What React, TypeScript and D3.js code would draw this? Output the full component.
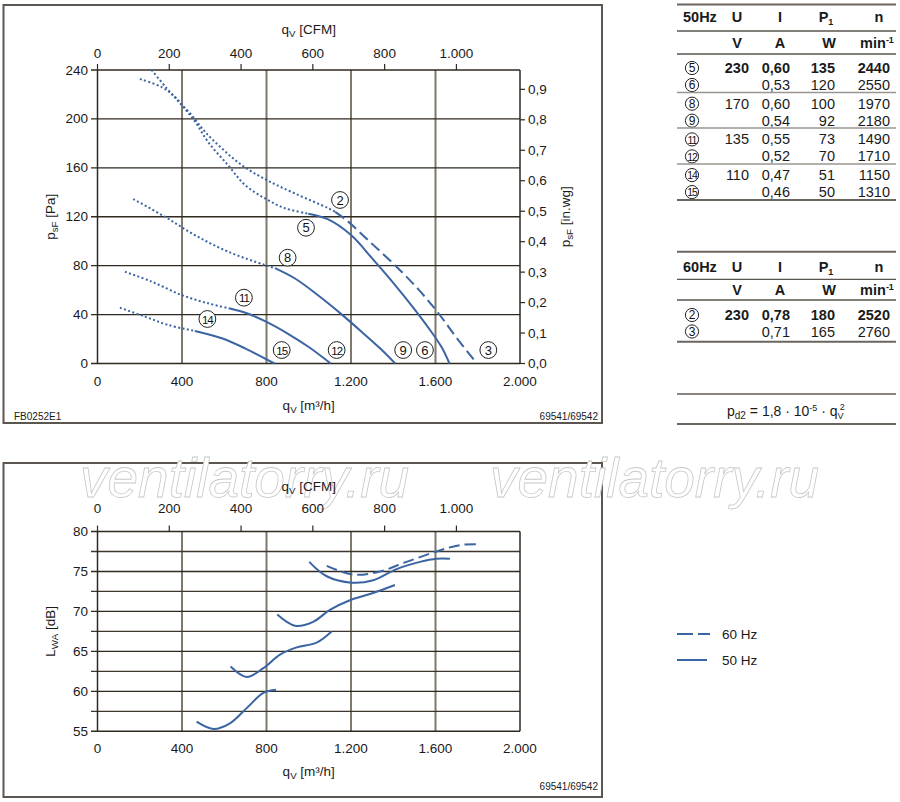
import React from 'react';
import * as d3 from 'd3';

type Pt = [number, number];

// axis ticks and labels
const flowTicks = [0, 400, 800, 1200, 1600, 2000];
const flowLabels = ['0', '400', '800', '1.200', '1.600', '2.000'];
const cfmTicks = [0, 200, 400, 600, 800, 1000];
const cfmLabels = ['0', '200', '400', '600', '800', '1.000'];
const paTicks = [0, 40, 80, 120, 160, 200, 240];
const inwgTicks = [0, 0.1, 0.2, 0.3, 0.4, 0.5, 0.6, 0.7, 0.8, 0.9];
const inwgLabels = ['0,0', '0,1', '0,2', '0,3', '0,4', '0,5', '0,6', '0,7', '0,8', '0,9'];
const dbTicks = [55, 60, 65, 70, 75, 80];
const dbMinor = [57.5, 62.5, 67.5, 72.5, 77.5];

// pressure curves [qv m3/h, psF Pa]
const c5Dotted: Pt[] = [[256, 240], [328, 225], [390, 213], [461, 198], [524, 181], [619, 162], [698, 146], [793, 135], [887, 127], [998, 122.5]];
const c6Solid: Pt[] = [[998, 122.5], [1090, 118], [1200, 105], [1300, 86], [1400, 66], [1500, 44.5], [1580, 26], [1630, 13], [1666, 0]];
const c2Dotted: Pt[] = [[201, 232.6], [304, 226], [367, 218], [395, 212.5], [446, 203], [509, 189.5], [588, 176], [682, 162.3], [801, 150], [935, 139], [1092, 127], [1125, 124]];
const c3Dashed: Pt[] = [[1125, 124], [1180, 117], [1280, 101], [1398, 82], [1517, 61], [1612, 41.5], [1700, 21], [1796, 0]];
const c8Dotted: Pt[] = [[169, 134.5], [319, 120], [461, 105], [619, 91.4], [793, 80.5], [840, 78]];
const c9Solid: Pt[] = [[840, 78], [935, 69.5], [1050, 55], [1150, 41], [1250, 26], [1340, 12], [1409, 0]];
const c11Dotted: Pt[] = [[130, 75], [256, 67], [398, 56], [524, 49.2], [627, 45]];
const c12Solid: Pt[] = [[627, 45], [700, 41.5], [800, 34], [900, 24.5], [1000, 13.5], [1104, 0]];
const c14Dotted: Pt[] = [[106, 45.6], [225, 38.3], [335, 31.5], [461, 26.6]];
const c15Solid: Pt[] = [[461, 26.6], [588, 20.6], [698, 12.4], [838, 0]];

// curve markers [id, qv, psF]
const markerIds = ['2', '5', '8', '11', '14', '15', '12', '9', '6', '3'];
const markerQ = [1148, 987, 900, 693, 520, 872, 1132, 1447, 1550, 1850];
const markerP = [133.7, 111, 86.5, 53.8, 36.4, 11, 11, 11, 11, 11];

// sound power curves [qv m3/h, LWA dB]
const s15: Pt[] = [[469, 56.2], [548, 55.3], [627, 56], [706, 57.9], [785, 59.8], [845, 60.2]];
const s12: Pt[] = [[630, 63.1], [706, 61.8], [785, 62.9], [864, 64.6], [943, 65.5], [1037, 66.1], [1108, 67.5]];
const s9: Pt[] = [[851, 69.6], [935, 68.2], [1021, 68.7], [1100, 70.2], [1195, 71.4], [1305, 72.3], [1408, 73.3]];
const s6: Pt[] = [[1002, 76.2], [1085, 74.4], [1203, 73.6], [1305, 73.9], [1416, 75.3], [1526, 76.2], [1605, 76.6], [1668, 76.6]];
const s3: Pt[] = [[1085, 75.7], [1211, 74.6], [1337, 75.0], [1463, 76.2], [1605, 77.5], [1716, 78.3], [1810, 78.4]];

// motor data tables
const t50Ids = ['5', '6', '8', '9', '11', '12', '14', '15'];
const t50U = ['230', '', '170', '', '135', '', '110', ''];
const t50I = ['0,60', '0,53', '0,60', '0,54', '0,55', '0,52', '0,47', '0,46'];
const t50P = ['135', '120', '100', '92', '73', '70', '51', '50'];
const t50N = ['2440', '2550', '1970', '2180', '1490', '1710', '1150', '1310'];
const t60Ids = ['2', '3'];
const t60U = ['230', ''];
const t60I = ['0,78', '0,71'];
const t60P = ['180', '165'];
const t60N = ['2520', '2760'];

const M3H_PER_CFM = 1.699;
const PA_PER_INWG = 249.09;
const FONT = 'Liberation Sans, Arial, sans-serif';
const BLUE = '#3b64a2';
const GRID_V = '#7f786d';
const GRID_H = '#2f291f';
const FS = 13.5;

const x = d3.scaleLinear().domain([0, 2000]).range([97.5, 520]);
const yPa = d3.scaleLinear().domain([0, 240]).range([363.5, 70]);
const yDb = d3.scaleLinear().domain([55, 80]).range([731.3, 531.5]);

const paLine = d3.line<Pt>().x(d => x(d[0])).y(d => yPa(d[1])).curve(d3.curveCatmullRom.alpha(0.5));
const dbLine = d3.line<Pt>().x(d => x(d[0])).y(d => yDb(d[1])).curve(d3.curveCatmullRom.alpha(0.5));

const DOT = '2,2.4';
const DASH = '11,5';

const pressureCurves = [
  { pts: c5Dotted, dash: DOT }, { pts: c6Solid, dash: '' },
  { pts: c2Dotted, dash: DOT }, { pts: c3Dashed, dash: DASH },
  { pts: c8Dotted, dash: DOT }, { pts: c9Solid, dash: '' },
  { pts: c11Dotted, dash: DOT }, { pts: c12Solid, dash: '' },
  { pts: c14Dotted, dash: DOT }, { pts: c15Solid, dash: '' },
];
const soundCurves = [
  { pts: s15, dash: '' }, { pts: s12, dash: '' }, { pts: s9, dash: '' },
  { pts: s6, dash: '' }, { pts: s3, dash: DASH },
];

// text with a subscript part: base + sub + rest
const SubText: React.FC<any> = ({ x, y, base, sub, rest, size = FS, anchor = 'middle', transform }) => (
  <text x={x} y={y} fontSize={size} textAnchor={anchor} transform={transform} fill="#1a1a1a">
    {base}
    <tspan dy={3} fontSize={size * 0.72}>{sub}</tspan>
    <tspan dy={-3}>{rest}</tspan>
  </text>
);

const Circled: React.FC<{ cx: number; cy: number; id: string; r?: number; size?: number }> = ({ cx, cy, id, r = 8.4, size = 13 }) => (
  <g fontWeight="normal">
    <circle cx={cx} cy={cy} r={r} fill="white" stroke="#222" strokeWidth={1} />
    <text x={cx} y={cy + size * 0.36} fontSize={id.length > 1 ? size - 1.5 : size} textAnchor="middle" fill="#111"
      letterSpacing={id.length > 1 ? -1 : 0}>{id}</text>
  </g>
);

const Frame: React.FC<{ y0: number; y1: number }> = ({ y0, y1 }) => (
  <rect x={3.5} y={y0} width={598.5} height={y1 - y0} fill="none" stroke="#5c5650" strokeWidth={2} />
);

const cx0 = (x(0) + x(2000)) / 2;

const TopChart = () => (
  <g>
    {flowTicks.slice(1, -1).map(t => (
      <line key={'v' + t} x1={x(t)} x2={x(t)} y1={yPa(0)} y2={yPa(240)} stroke={GRID_V} strokeWidth={2} />
    ))}
    {paTicks.map(t => (
      <line key={'h' + t} x1={91} x2={x(2000)} y1={yPa(t)} y2={yPa(t)} stroke={GRID_H} strokeWidth={1.4} />
    ))}
    <line x1={x(0)} x2={x(0)} y1={yPa(0)} y2={yPa(240)} stroke={GRID_H} strokeWidth={1.5} />
    <line x1={x(2000)} x2={x(2000)} y1={yPa(0)} y2={yPa(240)} stroke={GRID_H} strokeWidth={1.5} />
    {paTicks.map(t => (
      <text key={'l' + t} x={88} y={yPa(t) + 4.5} fontSize={FS} textAnchor="end" fill="#1a1a1a">{t}</text>
    ))}
    {inwgTicks.map((t, i) => (
      <g key={'r' + i}>
        <line x1={x(2000)} x2={x(2000) + 5} y1={yPa(t * PA_PER_INWG)} y2={yPa(t * PA_PER_INWG)} stroke={GRID_H} strokeWidth={1.2} />
        <text x={x(2000) + 8} y={yPa(t * PA_PER_INWG) + 4.5} fontSize={FS} fill="#1a1a1a">{inwgLabels[i]}</text>
      </g>
    ))}
    {cfmTicks.map((t, i) => (
      <g key={'c' + t}>
        <line x1={x(t * M3H_PER_CFM)} x2={x(t * M3H_PER_CFM)} y1={yPa(240)} y2={yPa(240) - 6} stroke={GRID_H} strokeWidth={1.2} />
        <text x={x(t * M3H_PER_CFM)} y={58} fontSize={FS} textAnchor="middle" fill="#1a1a1a">{cfmLabels[i]}</text>
      </g>
    ))}
    {flowTicks.map((t, i) => (
      <text key={'b' + t} x={x(t)} y={386} fontSize={FS} textAnchor="middle" fill="#1a1a1a">{flowLabels[i]}</text>
    ))}
    <SubText x={cx0} y={34} base="q" sub="V" rest=" [CFM]" />
    <SubText x={cx0} y={410} base="q" sub="V" rest=" [m³/h]" />
    <SubText x={0} y={0} base="p" sub="sF" rest=" [Pa]" transform={`translate(55,${(yPa(0) + yPa(240)) / 2}) rotate(-90)`} />
    <SubText x={0} y={0} base="p" sub="sF" rest=" [in.wg]" transform={`translate(570,${(yPa(0) + yPa(240)) / 2}) rotate(-90)`} />
    {pressureCurves.map((c, i) => (
      <path key={'pc' + i} d={paLine(c.pts) || ''} fill="none" stroke={BLUE} strokeWidth={2}
        strokeDasharray={c.dash || undefined} />
    ))}
    {markerIds.map((id, i) => (
      <Circled key={'m' + id} cx={x(markerQ[i])} cy={yPa(markerP[i])} id={id} />
    ))}
    <text x={14} y={420} fontSize={10} fill="#1a1a1a">FB0252E1</text>
    <text x={598} y={420} fontSize={10} textAnchor="end" fill="#1a1a1a">69541/69542</text>
  </g>
);

const BottomChart = () => (
  <g>
    {flowTicks.slice(1, -1).map(t => (
      <line key={'v' + t} x1={x(t)} x2={x(t)} y1={yDb(55)} y2={yDb(80)} stroke={GRID_V} strokeWidth={2} />
    ))}
    {dbMinor.map(t => (
      <line key={'n' + t} x1={91} x2={x(2000)} y1={yDb(t)} y2={yDb(t)} stroke="#3d372d" strokeWidth={1.3} />
    ))}
    {dbTicks.map(t => (
      <line key={'h' + t} x1={91} x2={x(2000)} y1={yDb(t)} y2={yDb(t)} stroke={GRID_H} strokeWidth={1.4} />
    ))}
    <line x1={x(0)} x2={x(0)} y1={yDb(55)} y2={yDb(80)} stroke={GRID_H} strokeWidth={1.5} />
    <line x1={x(2000)} x2={x(2000)} y1={yDb(55)} y2={yDb(80)} stroke={GRID_H} strokeWidth={1.5} />
    {dbTicks.map(t => (
      <text key={'l' + t} x={88} y={yDb(t) + 4.5} fontSize={FS} textAnchor="end" fill="#1a1a1a">{t}</text>
    ))}
    {cfmTicks.map((t, i) => (
      <g key={'c' + t}>
        <line x1={x(t * M3H_PER_CFM)} x2={x(t * M3H_PER_CFM)} y1={yDb(80)} y2={yDb(80) - 6} stroke={GRID_H} strokeWidth={1.2} />
        <text x={x(t * M3H_PER_CFM)} y={513} fontSize={FS} textAnchor="middle" fill="#1a1a1a">{cfmLabels[i]}</text>
      </g>
    ))}
    {flowTicks.map((t, i) => (
      <text key={'b' + t} x={x(t)} y={753} fontSize={FS} textAnchor="middle" fill="#1a1a1a">{flowLabels[i]}</text>
    ))}
    <SubText x={cx0} y={491} base="q" sub="V" rest=" [CFM]" />
    <SubText x={cx0} y={776} base="q" sub="V" rest=" [m³/h]" />
    <SubText x={0} y={0} base="L" sub="WA" rest=" [dB]" transform={`translate(55,${(yDb(55) + yDb(80)) / 2}) rotate(-90)`} />
    {soundCurves.map((c, i) => (
      <path key={'sc' + i} d={dbLine(c.pts) || ''} fill="none" stroke={BLUE} strokeWidth={2}
        strokeDasharray={c.dash || undefined} />
    ))}
    <text x={598} y={790} fontSize={10} textAnchor="end" fill="#1a1a1a">69541/69542</text>
  </g>
);

const colU = 749, colI = 790, colP = 835, colN = 890, colId = 692;
const TS = 14.5;

const TableRows: React.FC<any> = ({ ids, u, i: iv, p, n, rowY, boldRow }) => (
  <g>
    {ids.map((id: string, k: number) => {
      const yy = rowY(k);
      const fw = k === boldRow ? 'bold' : 'normal';
      return (
        <g key={'row' + id}>
          <Circled cx={colId} cy={yy - 5} id={id} r={6.6} size={12} />
          <g fontWeight={fw} fontSize={TS}>
            <text x={colU} y={yy} textAnchor="end">{u[k]}</text>
            <text x={colI} y={yy} textAnchor="end">{iv[k]}</text>
            <text x={colP} y={yy} textAnchor="end">{p[k]}</text>
            <text x={colN} y={yy} textAnchor="end">{n[k]}</text>
          </g>
        </g>
      );
    })}
  </g>
);

const Header: React.FC<{ label: string; y1: number; y2: number }> = ({ label, y1, y2 }) => (
  <g fontWeight="bold" fontSize={TS}>
    <text x={683} y={y1}>{label}</text>
    <text x={737} y={y1} textAnchor="middle">U</text>
    <text x={780} y={y1} textAnchor="middle">I</text>
    <text x={826} y={y1} textAnchor="middle">P<tspan dy={3} fontSize={9}>1</tspan></text>
    <text x={879} y={y1} textAnchor="middle">n</text>
    <text x={737} y={y2} textAnchor="middle">V</text>
    <text x={780} y={y2} textAnchor="middle">A</text>
    <text x={829} y={y2} textAnchor="middle">W</text>
    <text x={877} y={y2} textAnchor="middle">min<tspan dy={-5} fontSize={9}>-1</tspan></text>
  </g>
);

const HLine: React.FC<{ y: number; w?: number; c?: string }> = ({ y, w = 1.3, c = '#5a554f' }) => (
  <line x1={677} x2={896} y1={y} y2={y} stroke={c} strokeWidth={w} />
);

const Tables = () => (
  <g fill="#1a1a1a">
    <HLine y={4.5} w={2} c="#6b6560" />
    <Header label="50Hz" y1={22} y2={48} />
    <HLine y={31} />
    <HLine y={54} />
    <TableRows ids={t50Ids} u={t50U} i={t50I} p={t50P} n={t50N} boldRow={0}
      rowY={(k: number) => 73 + Math.floor(k / 2) * 35.7 + (k % 2) * 17} />
    <HLine y={92.5} w={1.6} c="#9a958f" />
    <HLine y={128} w={1.6} c="#9a958f" />
    <HLine y={164} w={1.6} c="#9a958f" />
    <HLine y={200} w={2} c="#6b6560" />

    <HLine y={251.7} w={2} c="#6b6560" />
    <Header label="60Hz" y1={271.5} y2={295} />
    <HLine y={279.3} />
    <HLine y={300} />
    <TableRows ids={t60Ids} u={t60U} i={t60I} p={t60P} n={t60N} boldRow={0}
      rowY={(k: number) => 320 + k * 16.5} />
    <HLine y={341.7} w={2} c="#6b6560" />

    <HLine y={394} w={2} c="#8a857f" />
    <text x={727} y={416} fontSize={14}>
      p<tspan dy={3} fontSize={10}>d2</tspan><tspan dy={-3}> =  1,8  · 10</tspan>
      <tspan dy={-5} fontSize={9}>-5</tspan><tspan dy={5}> · q</tspan>
      <tspan dy={3} fontSize={9}>V</tspan><tspan dy={-9} dx={-4} fontSize={9}>2</tspan>
    </text>
    <HLine y={424} w={2} c="#6b6560" />
  </g>
);

const Legend = () => (
  <g>
    <line x1={677} x2={710} y1={634} y2={634} stroke={BLUE} strokeWidth={2} strokeDasharray="16,5" />
    <text x={722} y={639} fontSize={FS} fill="#1a1a1a">60 Hz</text>
    <line x1={677} x2={707} y1={660} y2={660} stroke={BLUE} strokeWidth={2} />
    <text x={722} y={665} fontSize={FS} fill="#1a1a1a">50 Hz</text>
  </g>
);

const Watermark = () => (
  <g fontStyle="italic" fontSize={55} fill="white" stroke="#c8c8c8" strokeWidth={0.8}>
    <text x={80} y={497}>ventilatorry.ru</text>
    <text x={490} y={497}>ventilatorry.ru</text>
  </g>
);

export default function App() {
  return (
    <svg width={900} height={802} style={{ position: 'absolute', left: 0, top: 0, background: 'white' }}
      fontFamily={FONT}>
      <rect x={0} y={0} width={900} height={802} fill="white" />
      <Frame y0={5} y1={423} />
      <Frame y0={463} y1={797} />
      <Watermark />
      <TopChart />
      <BottomChart />
      <Tables />
      <Legend />
    </svg>
  );
}
